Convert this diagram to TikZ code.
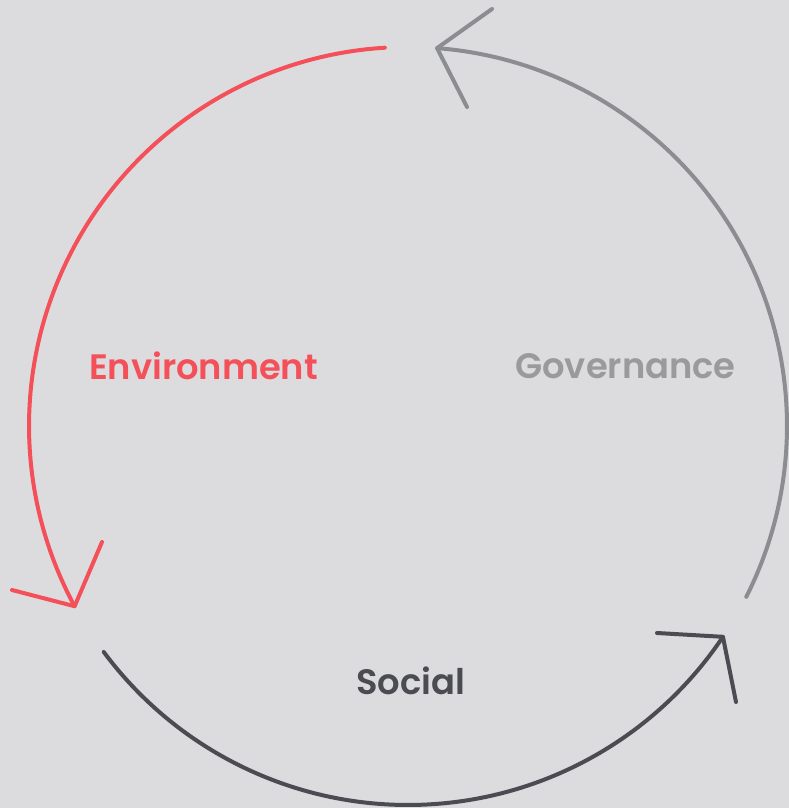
\documentclass[tikz,border=0pt]{standalone}
\usepackage{fontspec}
\setmainfont{Poppins}[BoldFont={Poppins SemiBold}]
\definecolor{bg}{HTML}{DCDCDE}
\definecolor{envred}{HTML}{F4505A}
\definecolor{socdark}{HTML}{4B4C51}
\definecolor{govarc}{HTML}{8C8D90}
\definecolor{govtext}{HTML}{9A9A9C}
\begin{document}
\begin{tikzpicture}[x=1pt,y=1pt,
  cyc/.style={line width=4pt,line cap=round,line join=round},
  lbl/.style={font=\bfseries\fontsize{35.3}{35.3}\selectfont,inner sep=0pt,anchor=center}]
\fill[bg] (0,0) rectangle (789,808);
\useasboundingbox (0,0) rectangle (789,808);
\coordinate (c) at (408,382);
% Environment arc
\draw[cyc,envred] (c) ++(93.5:379) arc[start angle=93.5,end angle=208.4,radius=379] coordinate (envtip);
\draw[cyc,envred] (12,218) -- (envtip) -- (102,266);
% Social arc
\draw[cyc,socdark] (c) ++(216.6:379) arc[start angle=216.6,end angle=326.2,radius=379] coordinate (soctip);
\draw[cyc,socdark] (657,175) -- (soctip) -- (736,106);
% Governance arc
\draw[cyc,govarc] (c) ++(-26.8:379) arc[start angle=-26.8,end angle=85.6,radius=379] coordinate (govtip);
\draw[cyc,govarc] (492,799) -- (govtip) -- (467,701);
% labels
\node[lbl,text=envred] (env) at (203.5,442) {Environment};
\node[lbl,text=govtext] (gov) at (625.5,442) {Governance};
\node[lbl,text=socdark] (soc) at (410.5,127) {Social};
\end{tikzpicture}
\end{document}
